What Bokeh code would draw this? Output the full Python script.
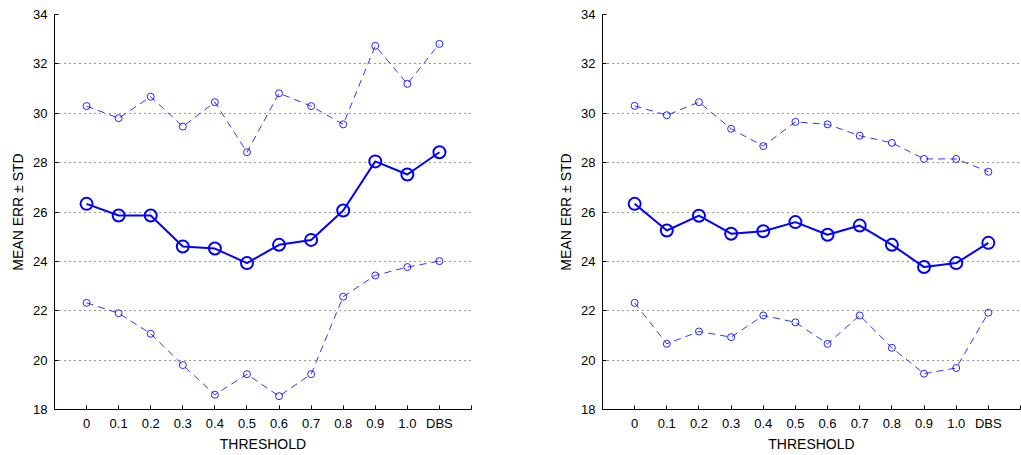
from bokeh.plotting import figure
from bokeh.layouts import row
from bokeh.models import FixedTicker, ColumnDataSource, Range1d
from bokeh.embed import file_html
from bokeh.resources import INLINE

thresholds = ["0", "0.1", "0.2", "0.3", "0.4", "0.5", "0.6", "0.7", "0.8", "0.9", "1.0", "DBS"]

left_upper = [30.29, 29.80, 30.67, 29.46, 30.45, 28.42, 30.81, 30.29, 29.55, 32.73, 31.19, 32.81]
left_mean = [26.33, 25.86, 25.86, 24.60, 24.52, 23.93, 24.67, 24.87, 26.06, 28.05, 27.52, 28.42]
left_lower = [22.32, 21.90, 21.07, 19.80, 18.60, 19.43, 18.54, 19.43, 22.57, 23.43, 23.77, 24.01]

right_upper = [30.30, 29.92, 30.45, 29.37, 28.67, 29.65, 29.55, 29.09, 28.80, 28.15, 28.15, 27.63]
right_mean = [26.33, 25.25, 25.85, 25.12, 25.22, 25.59, 25.08, 25.45, 24.67, 23.77, 23.93, 24.75]
right_lower = [22.32, 20.66, 21.16, 20.93, 21.81, 21.53, 20.66, 21.81, 20.50, 19.45, 19.68, 21.92]

y_ticks = [18, 20, 22, 24, 26, 28, 30, 32, 34]
x_label = "THRESHOLD"
y_label = "MEAN ERR \u00b1 STD"

FONT = "Liberation Sans"
BLUE = "#0000ff"


def make_panel(upper, mean, lower, frame_w, border_left, border_right):
    xs = list(range(len(thresholds)))
    p = figure(frame_width=frame_w, frame_height=395, output_backend="svg", toolbar_location=None,
               x_range=Range1d(-1, len(thresholds)), y_range=Range1d(18, 34),
               min_border_left=border_left, min_border_right=border_right,
               min_border_top=14, min_border_bottom=46)
    p.outline_line_color = None
    p.background_fill_color = "white"
    p.border_fill_color = "white"

    p.xgrid.grid_line_color = None
    p.ygrid.grid_line_color = "#000000"
    p.ygrid.grid_line_alpha = 0.8
    p.ygrid.grid_line_dash = "1 4"
    p.ygrid.grid_line_width = 1

    tick_pos = xs + [len(thresholds)]
    p.xaxis.ticker = FixedTicker(ticks=tick_pos)
    overrides = {i: t for i, t in enumerate(thresholds)}
    overrides[len(thresholds)] = ""
    p.xaxis.major_label_overrides = overrides
    p.yaxis.ticker = FixedTicker(ticks=y_ticks)

    for ax in (p.xaxis, p.yaxis):
        ax.axis_line_color = "black"
        ax.axis_line_width = 1
        ax.major_tick_in = 4
        ax.major_tick_out = 0
        ax.minor_tick_line_color = None
        ax.major_tick_line_color = "black"
        ax.major_label_text_font = FONT
        ax.major_label_text_font_size = "13px"
        ax.major_label_text_color = "#000000"
        ax.axis_label_text_font = FONT
        ax.axis_label_text_font_size = "14px"
        ax.axis_label_text_font_style = "normal"
        ax.axis_label_text_color = "#000000"
    p.xaxis.axis_label = x_label
    p.yaxis.axis_label = y_label
    p.xaxis.major_label_standoff = 6
    p.xaxis.axis_label_standoff = 2
    p.yaxis.major_label_standoff = 7
    p.yaxis.axis_label_standoff = 4

    src = ColumnDataSource(dict(x=xs, up=upper, mean=mean, lo=lower))
    for col in ("up", "lo"):
        p.line("x", col, source=src, line_color=BLUE, line_width=1, line_dash="7 5", line_alpha=0.8)
        p.scatter("x", col, source=src, marker="circle", size=7, fill_color=None,
                  line_color=BLUE, line_width=1, line_alpha=0.85)
    p.line("x", "mean", source=src, line_color=BLUE, line_width=2)
    p.scatter("x", "mean", source=src, marker="circle", size=12, fill_color=None,
              line_color=BLUE, line_width=2)
    return p


p1 = make_panel(left_upper, left_mean, left_lower, 417, 54, 57)
p2 = make_panel(right_upper, right_mean, right_lower, 418, 74, 1)
layout = row(p1, p2)

open("out.html", "w").write(file_html(layout, INLINE))
